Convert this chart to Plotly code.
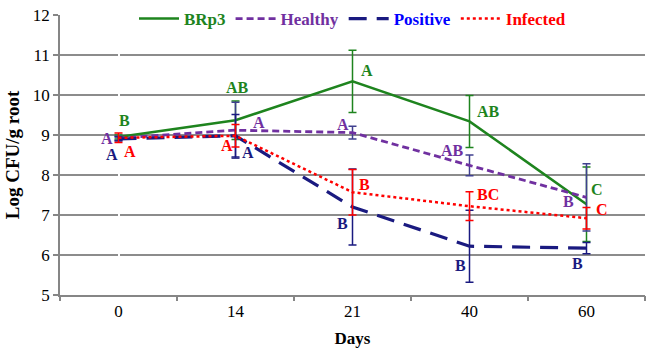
import plotly.graph_objects as go

days = ["0", "14", "21", "40", "60"]

brp3 = [8.95, 9.37, 10.34, 9.34, 7.27]
brp3_err = [0.05, 0.48, 0.78, 0.65, 0.93]
healthy = [8.92, 9.12, 9.06, 8.24, 7.44]
healthy_err = [0.05, 0.70, 0.16, 0.26, 0.84]
positive = [8.90, 8.98, 7.20, 6.22, 6.17]
positive_err = [0.05, 0.53, 0.95, 0.90, 0.14]
infected = [8.93, 8.98, 7.57, 7.22, 6.92]
infected_err = [0.12, 0.28, 0.57, 0.36, 0.27]

brp3_lbl = ["B", "AB", "A", "AB", "C"]
healthy_lbl = ["A", "A", "A", "AB", "B"]
positive_lbl = ["A", "A", "B", "B", "B"]
infected_lbl = ["A", "A", "B", "BC", "C"]

GREEN = "#1E841E"
PURPLE = "#7030A0"
NAVY = "#1A1A80"
BLUE = "#0000FF"
RED = "#FF0000"
HBAR = "#40408F"
FONT = "Liberation Serif"

fig = go.Figure()

def add(name, y, err, color, dash, width, barcolor, txtcolor):
    fig.add_trace(go.Scatter(
        x=list(range(len(days))), y=y, mode="lines",
        name=f"<b><span style='color:{txtcolor}'>{name}</span></b>",
        line=dict(color=color, dash=dash, width=width),
        error_y=dict(type="data", array=err, visible=True, color=barcolor,
                     thickness=1.5, width=4),
    ))

add("BRp3", brp3, brp3_err, GREEN, "solid", 2.5, GREEN, GREEN)
add("Healthy", healthy, healthy_err, PURPLE, "7px,4px", 2.8, HBAR, PURPLE)
add("Positive", positive, positive_err, NAVY, "18px,10px", 3.2, NAVY, BLUE)
add("Infected", infected, infected_err, RED, "dot", 2.5, RED, RED)

# letter label positions (value, x-offset in px) per series
brp3_pos = [(9.37, 6), (10.2, 2), (10.62, 14), (9.58, 19), (7.63, 10)]
healthy_pos = [(8.92, -12), (9.32, 23), (9.27, -10), (8.61, -17), (7.34, -18)]
positive_pos = [(8.52, -7), (8.56, 12), (6.78, -10), (5.73, -9), (5.80, -9)]
infected_pos = [(8.59, 11), (8.73, -9), (7.76, 12), (7.51, 18), (7.15, 15)]

for lbls, pos, col in [(brp3_lbl, brp3_pos, GREEN), (healthy_lbl, healthy_pos, PURPLE),
                       (positive_lbl, positive_pos, NAVY), (infected_lbl, infected_pos, RED)]:
    for i, (t, (yv, xs)) in enumerate(zip(lbls, pos)):
        fig.add_annotation(x=i, y=yv, text=f"<b>{t}</b>", showarrow=False,
                           xshift=xs, font=dict(family=FONT, size=16, color=col))

fig.update_layout(
    width=646, height=361,
    margin=dict(l=60, r=1, t=8, b=66),
    plot_bgcolor="white", paper_bgcolor="white",
    font=dict(family=FONT, size=17, color="black"),
    showlegend=True,
    legend=dict(orientation="h", x=0.5, xanchor="center", y=1.05, yanchor="top",
                font=dict(family=FONT, size=17), bgcolor="rgba(0,0,0,0)",
                itemwidth=40, tracegroupgap=0),
    xaxis=dict(tickmode="array", tickvals=list(range(len(days))), ticktext=days,
               ticks="", showline=True, linecolor="#868686", linewidth=1.5,
               showgrid=False, automargin=False,
               title=dict(text="<b>Days</b>", font=dict(size=17), standoff=12),
               tickfont=dict(size=17), range=[-0.5, 4.5]),
    xaxis2=dict(overlaying="x", anchor="y", side="bottom", range=[-0.5, 4.5],
                tickmode="array", tickvals=[-0.5, 0.5, 1.5, 2.5, 3.5, 4.5],
                ticks="outside", ticklen=5, tickcolor="#868686", tickwidth=1.5,
                showticklabels=False, showgrid=False, showline=False,
                automargin=False),
    yaxis=dict(range=[5, 12], dtick=1, showgrid=True, gridcolor="#8C8C8C", gridwidth=1.5,
               showline=True, linecolor="#868686", linewidth=1.5, ticks="outside",
               ticklen=5, tickcolor="#868686", tickwidth=1.5, zeroline=False,
               automargin=False,
               title=dict(text="<b>Log CFU/g root</b>", font=dict(size=19), standoff=8),
               tickfont=dict(size=17)),
)
fig.add_trace(go.Scatter(x=[0], y=[None], xaxis="x2", showlegend=False, hoverinfo="skip"))

fig.write_html("out.html", config={"displayModeBar": False},
               post_script="document.body.style.margin='0';")
